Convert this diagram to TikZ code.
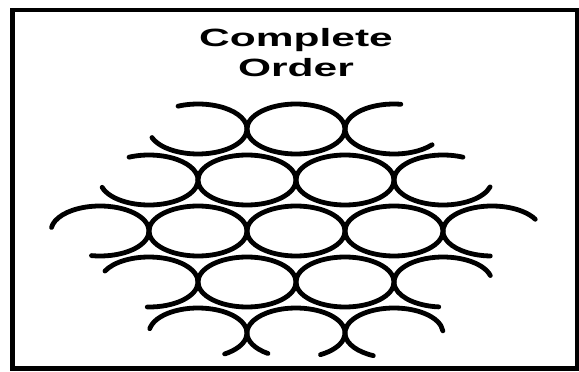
\documentclass[tikz,border=0pt]{standalone}
\usepackage{fontspec}
\setmainfont{Liberation Sans}
\tikzset{
  frame/.style={line width=4.5pt},
  ring/.style={line width=4.8pt, line cap=round},
  heading/.style={inner sep=0pt, align=center, font=\fontsize{25}{30}\selectfont\bfseries},
}
\begin{document}
\begin{tikzpicture}[x=1pt,y=-1pt]
\useasboundingbox (0,0) rectangle (579,372);
\draw[frame] (12.5,10) rectangle (577,368.5);
\node[heading] (title) at (296,53) {\scalebox{1.7}[1]{Complete}\\\scalebox{1.7}[1]{Order}};
% full rings
\draw[ring] (296,129) ellipse[x radius=49pt, y radius=25pt];
\draw[ring] (247,180) ellipse[x radius=49pt, y radius=25pt];
\draw[ring] (345,180) ellipse[x radius=49pt, y radius=25pt];
\draw[ring] (198,231) ellipse[x radius=49pt, y radius=25pt];
\draw[ring] (296,231) ellipse[x radius=49pt, y radius=25pt];
\draw[ring] (394,231) ellipse[x radius=49pt, y radius=25pt];
\draw[ring] (247,282) ellipse[x radius=49pt, y radius=25pt];
\draw[ring] (345,282) ellipse[x radius=49pt, y radius=25pt];
% open rings round the edge
\draw[ring] (198,129) ++(-160:49pt and 25pt) arc[start angle=-160, end angle=114, x radius=49pt, y radius=25pt];
\draw[ring] (394,129) ++(82:49pt and 25pt) arc[start angle=82, end angle=321, x radius=49pt, y radius=25pt];
\draw[ring] (149,180) ++(-163:49pt and 25pt) arc[start angle=-163, end angle=114, x radius=49pt, y radius=25pt];
\draw[ring] (443,180) ++(66:49pt and 25pt) arc[start angle=66, end angle=344, x radius=49pt, y radius=25pt];
\draw[ring] (100,231) ++(-100:49pt and 25pt) arc[start angle=-100, end angle=172, x radius=49pt, y radius=25pt];
\draw[ring] (492,231) ++(28:49pt and 25pt) arc[start angle=28, end angle=268, x radius=49pt, y radius=25pt];
\draw[ring] (149,282) ++(-92:49pt and 25pt) arc[start angle=-92, end angle=154, x radius=49pt, y radius=25pt];
\draw[ring] (443,282) ++(15:49pt and 25pt) arc[start angle=15, end angle=265, x radius=49pt, y radius=25pt];
\draw[ring] (198,333) ++(-57:49pt and 25pt) arc[start angle=-57, end angle=170, x radius=49pt, y radius=25pt];
\draw[ring] (296,333) ++(-60:49pt and 25pt) arc[start angle=-60, end angle=235, x radius=49pt, y radius=25pt];
\draw[ring] (394,333) ++(5:49pt and 25pt) arc[start angle=5, end angle=245, x radius=49pt, y radius=25pt];
\end{tikzpicture}
\end{document}
